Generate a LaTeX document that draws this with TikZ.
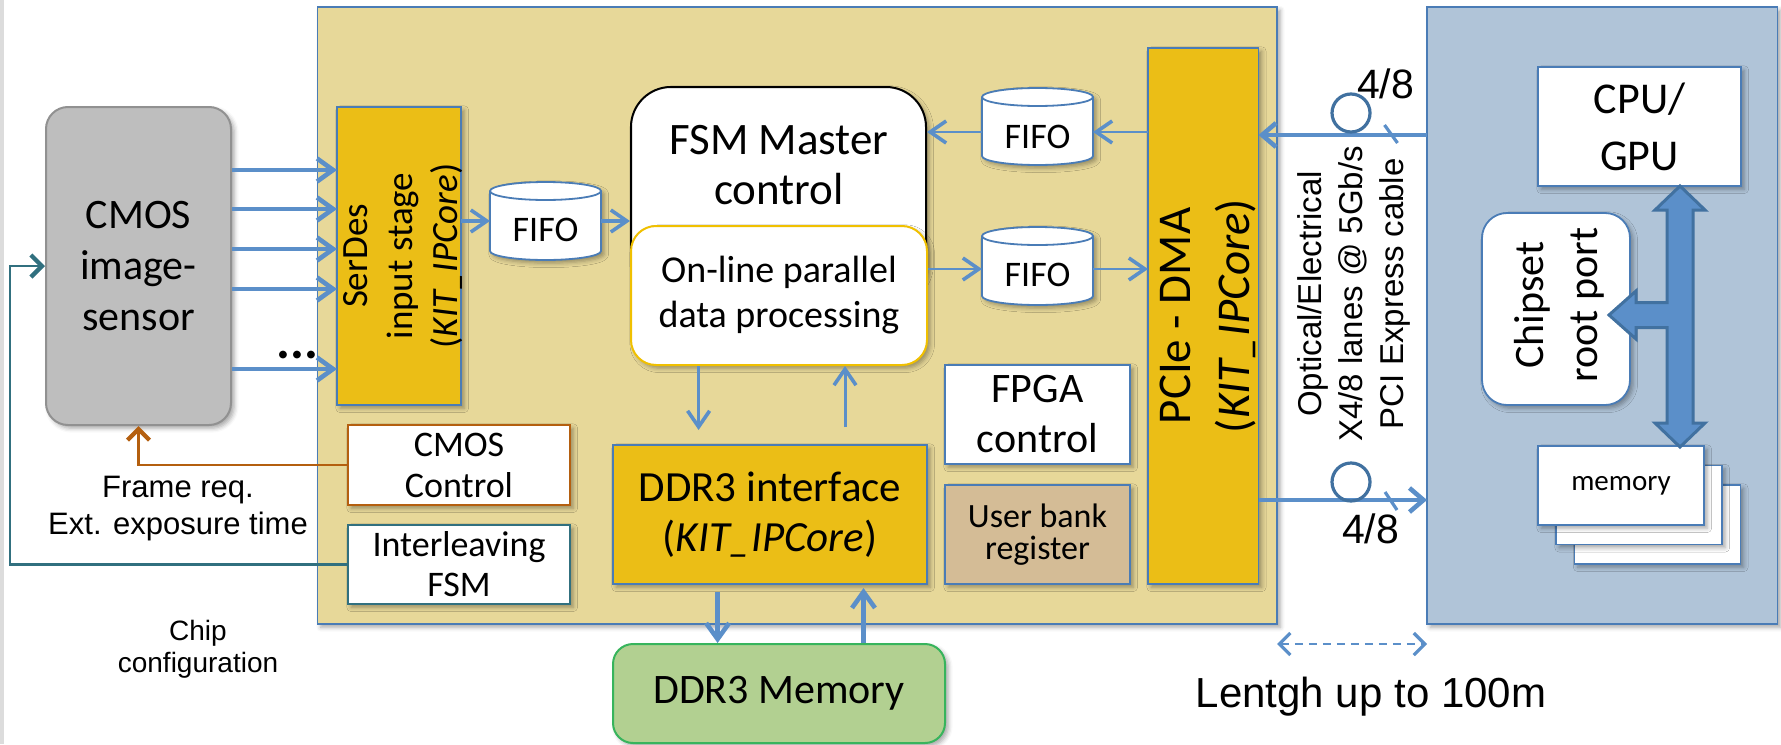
\documentclass[tikz,border=0pt]{standalone}
\usepackage{fontspec}
\setmainfont{Carlito}
\newfontfamily\arial{Liberation Sans}
\usetikzlibrary{arrows.meta,shadows.blur,calc}

\definecolor{fpgafill}{RGB}{231,216,153}
\definecolor{gold}{RGB}{235,190,22}
\definecolor{edgeblue}{RGB}{74,124,182}
\definecolor{flow}{RGB}{91,143,201}
\definecolor{flowdark}{RGB}{65,113,160}
\definecolor{hostfill}{RGB}{176,196,216}
\definecolor{ddrgreen}{RGB}{178,208,145}
\definecolor{ddredge}{RGB}{55,180,92}
\definecolor{regtan}{RGB}{212,188,150}
\definecolor{cfgteal}{RGB}{49,112,127}
\definecolor{ctlorange}{RGB}{180,95,15}
\definecolor{sensorgray}{RGB}{190,190,190}
\definecolor{sensoredge}{RGB}{145,145,145}
\definecolor{onlineedge}{RGB}{240,192,0}
\definecolor{stripgray}{RGB}{220,220,220}

\newcommand\fsz[2]{\fontsize{#1}{#2}\selectfont}

% cylinder outline drawn around an (invisible) rectangular node
\newcommand\fifodrum[1]{%
  \path[fill=white,draw=edgeblue,line width=0.9pt,shade box]
    ([yshift=-4.5pt]#1.north west) -- ([yshift=4.5pt]#1.south west)
    arc[start angle=180,end angle=360,x radius=27.75pt,y radius=4.5pt]
    -- ([yshift=-4.5pt]#1.north east)
    arc[start angle=0,end angle=180,x radius=27.75pt,y radius=4.5pt] -- cycle;
  \draw[edgeblue,line width=0.9pt] ([yshift=-4.5pt]#1.north west)
    arc[start angle=180,end angle=360,x radius=27.75pt,y radius=4.5pt];
}

\tikzset{
  shade box/.style={blur shadow={shadow xshift=1.6pt,shadow yshift=-1.6pt,
      shadow blur radius=2.2pt,shadow opacity=35}},
  blockbox/.style={draw=edgeblue,line width=0.9pt,inner sep=0pt,outer sep=0pt,align=center},
  goldbox/.style={blockbox,fill=gold,shade box},
  whitebox/.style={blockbox,fill=white,shade box},
  fifo/.style={inner sep=0pt,outer sep=0pt,minimum width=55.5pt,minimum height=39pt},
  thickflow/.style={draw=flow,line width=2.3pt,
      -{Straight Barb[length=8pt,width=11.5pt,line width=2.3pt]}},
  thinflow/.style={draw=flow,line width=1.3pt,
      -{Straight Barb[length=8pt,width=11pt,line width=1.8pt]}},
  linkflow/.style={draw=flow,line width=2.3pt,
      -{Straight Barb[length=7pt,width=12pt,line width=2.3pt]}},
  big/.style={font=\fsz{21}{25}},
}

\begin{document}
\begin{tikzpicture}[x=0.5pt,y=-0.5pt]
\useasboundingbox (0,0) rectangle (1781,744);
\fill[stripgray] (0,0) rectangle (4,744);

% ---------- enclosing blocks ----------
\node[blockbox,fill=fpgafill,shade box,line width=0.8pt,
      minimum width=479.75pt,minimum height=308.5pt] (fpga) at (797.25,315.5) {};
\node[blockbox,fill=hostfill,shade box,line width=0.8pt,
      minimum width=175.25pt,minimum height=308.5pt] (host) at (1602.25,315.5) {};

% ---------- image sensor side ----------
\node[draw=sensoredge,fill=sensorgray,line width=1pt,rounded corners=11pt,shade box,
      minimum width=92.5pt,minimum height=159pt,align=center,
      font=\fsz{21}{25.5}] (cmos) at (138.5,266) {CMOS\\image-\\sensor};

\node[goldbox,minimum width=62pt,minimum height=149pt] (serdes) at (399,256) {};
\node[rotate=90,align=center,font=\fsz{18.5}{22.5}] (serdestxt) at (403,256)
  {SerDes\\input stage\\(\textit{KIT\_IPCore})};

\foreach \yy in {170,209,249,289,369}
  \draw[thickflow] (cmos.east |- 0,\yy) -- (serdes.west |- 0,\yy);
\node[anchor=base,font=\bfseries\fsz{26}{26}] (dots) at (297.5,358) {...};

\node[whitebox,draw=ctlorange,minimum width=111pt,minimum height=40pt,
      font=\fsz{18}{20.5}] (cmosctl) at (459,465) {CMOS\\Control};
\node[whitebox,draw=cfgteal,minimum width=111pt,minimum height=39.5pt,
      font=\fsz{18}{20}] (ilv) at (459,564.5) {Interleaving\\FSM};

\draw[ctlorange,line width=1.1pt,
      -{Straight Barb[length=5.5pt,width=11pt,line width=2.2pt]}]
  (cmosctl.west) -| (cmos.south);
\coordinate (loop) at (10,564.5);
\draw[cfgteal,line width=1.1pt,
      -{Straight Barb[length=5.5pt,width=11pt,line width=2.2pt]}]
  (ilv.west) -- (loop) |- (cmos.west);

\node[align=center,font=\arial\fsz{15.5}{18.5}] (exptxt) at (178,508.5)
  {Frame req.\\Ext. exposure time};
\node[align=center,font=\arial\fsz{14}{16}] (chipcfg) at (198,649)
  {Chip\\configuration};

% ---------- FPGA internals ----------
\node[fifo] (fifo1) at (545.5,221) {};
\fifodrum{fifo1}
\node[font=\fsz{18}{20}] (fifo1t) at ([yshift=-4.5pt]fifo1.center) {FIFO};

\node[draw=black,fill=white,line width=1pt,rounded corners=20pt,shade box,
      minimum width=147.5pt,minimum height=106.5pt] (fsm) at (778.5,193.5) {};
\node[align=center,font=\fsz{22.5}{25}] (fsmtxt) at (779,165) {FSM Master\\control};
\node[draw=onlineedge,fill=white,line width=1pt,rounded corners=12.5pt,shade box,
      minimum width=148pt,minimum height=69.5pt,align=center,
      font=\fsz{19}{22.5}] (online) at (779,295.5)
  {On-line parallel\\data processing};

\node[fifo,minimum height=38.5pt] (fifo2) at (1037.5,126.5) {};
\fifodrum{fifo2}
\node[font=\fsz{18}{20}] (fifo2t) at ([yshift=-5pt]fifo2.center) {FIFO};
\node[fifo] (fifo3) at (1037.5,266) {};
\fifodrum{fifo3}
\node[font=\fsz{18}{20}] (fifo3t) at ([yshift=-4.5pt]fifo3.center) {FIFO};

\node[goldbox,minimum width=55.25pt,minimum height=268pt] (pcie) at (1203.25,316) {};
\node[rotate=90,align=center,font=\fsz{23.5}{29.5}] (pcietxt) at (1207.5,316)
  {PCIe - DMA\\(\textit{KIT\_IPCore})};

\node[whitebox,minimum width=92.5pt,minimum height=49.5pt,big] (fpgactl)
  at (1037.5,414.5) {FPGA\\control};
\node[blockbox,fill=regtan,shade box,minimum width=92.5pt,minimum height=49.5pt,
      font=\fsz{17}{16}] (userreg) at (1037.5,534.5) {User bank\\register};

\node[goldbox,minimum width=157pt,minimum height=69.5pt,font=\fsz{21.5}{25}] (ddrif)
  at (770,514.5) {DDR3 interface\\(\textit{KIT\_IPCore})};
\node[draw=ddredge,fill=ddrgreen,line width=1pt,rounded corners=10pt,shade box,
      minimum width=166pt,minimum height=49.5pt,big] (ddrmem)
  at (779,693.5) {DDR3 Memory};

% data paths inside the FPGA
\draw[thinflow,line width=1.6pt] (serdes.east |- fifo1.west) -- (fifo1.west);
\draw[thinflow,line width=1.6pt] (fifo1.east) -- (fsm.west |- fifo1.east);
\draw[thinflow] (pcie.west |- 0,132) -- (fifo2.east |- 0,132);
\draw[thinflow] (fifo2.west |- 0,132) -- (fsm.east |- 0,132);
\draw[thinflow] (online.east |- 0,269) -- (fifo3.west |- 0,269);
\draw[thinflow] (fifo3.east |- 0,269) -- (pcie.west |- 0,269);
\draw[thinflow,line width=1.5pt] ([xshift=-40.2pt]online.south)
  -- ([xshift=-35.7pt,yshift=7.5pt]ddrif.north);
\draw[thinflow,line width=1.5pt] ([xshift=37.5pt,yshift=9pt]ddrif.north)
  -- ([xshift=33pt]online.south);
\draw[thickflow,line width=2.6pt] ([xshift=-26.2pt,yshift=-4pt]ddrif.south)
  -- ([xshift=-30.7pt]ddrmem.north);
\draw[thickflow,line width=2.6pt] ([xshift=42.25pt]ddrmem.north)
  -- ([xshift=46.75pt,yshift=-2pt]ddrif.south);

% ---------- link ----------
\draw[linkflow] (host.west |- 0,135) -- (pcie.east |- 0,135);
\draw[linkflow] (pcie.east |- 0,500) -- (host.west |- 0,500);
\node[circle,draw=flowdark,line width=1.6pt,minimum size=19pt,inner sep=0pt]
  (ringtop) at (1351,113) {};
\node[circle,draw=flowdark,line width=1.6pt,minimum size=19pt,inner sep=0pt]
  (ringbot) at (1351,482) {};
\draw[flow,line width=1.6pt] (1384.5,125) -- (1397.5,143);
\draw[flow,line width=1.6pt] (1385,492) -- (1397,510);
\node[font=\arial\fsz{20.5}{22}] (lanestop) at (1385.5,84) {4/8};
\node[font=\arial\fsz{20.5}{22}] (lanesbot) at (1370.5,529) {4/8};
\node[rotate=90,align=center,font=\arial\fsz{16.5}{20.5}] (cabletxt) at (1354,294)
  {Optical/Electrical\\X4/8 lanes @ 5Gb/s\\PCI Express cable};

\draw[flow,line width=0.9pt,dash pattern=on 4pt off 3pt,
      {Straight Barb[length=5.5pt,width=11pt,line width=1.6pt]}-{Straight Barb[length=5.5pt,width=11pt,line width=1.6pt]}]
  ([yshift=-10pt]fpga.south east) -- ([yshift=-10pt]host.south west);
\node[font=\arial\fsz{21}{24}] (lengthtxt) at (1371,697) {Lentgh up to 100m};

% ---------- host ----------
\node[whitebox,minimum width=101.5pt,minimum height=59.5pt,font=\fsz{22}{28.5}]
  (cpu) at (1639.5,126.5) {CPU/\\GPU};
\node[draw=edgeblue,fill=white,line width=0.9pt,rounded corners=12.5pt,shade box,
      minimum width=74pt,minimum height=96pt] (chipset) at (1556,309) {};
\node[rotate=90,align=center,font=\fsz{21}{27}] (chipsettxt) at (1559,305)
  {Chipset\\root port};

\node[whitebox,minimum width=83pt,minimum height=39.5pt] (mem3) at (1657.5,524.5) {};
\node[whitebox,minimum width=83pt,minimum height=39.5pt] (mem2) at (1639,505) {};
\node[whitebox,minimum width=83pt,minimum height=39.5pt,font=\fsz{14.5}{16}]
  (mem1) at (1621,485.5) {memory};

% system bus between CPU, chipset and memory
\path[fill=flow,draw=flowdark,line width=1.5pt,line join=miter]
  (1680,186) -- (1705,210) -- (1693,210) -- (1693,423) -- (1705,423) -- (1680,447)
  -- (1655,423) -- (1667,423) -- (1667,327.5) -- (1636,327.5) -- (1636,339)
  -- (1609,315) -- (1636,291) -- (1636,302.5) -- (1667,302.5) -- (1667,210)
  -- (1655,210) -- cycle;
\end{tikzpicture}
\end{document}
